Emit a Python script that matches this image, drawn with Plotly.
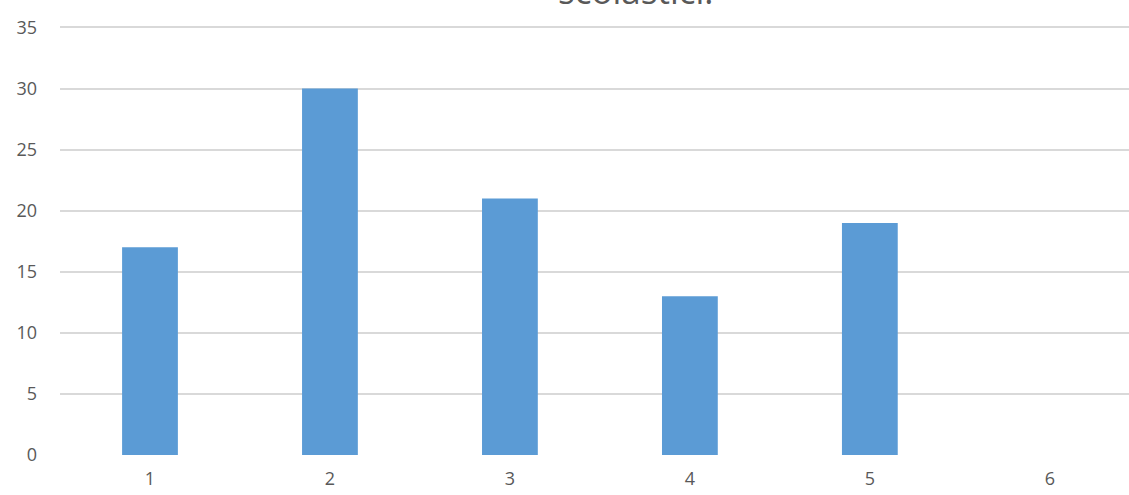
import plotly.graph_objects as go

categories = [1, 2, 3, 4, 5, 6]
values = [17, 30, 21, 13, 19, 0]
y_ticks = [0, 5, 10, 15, 20, 25, 30, 35]
title_text = "scolastici."

fig = go.Figure()
fig.add_trace(go.Bar(
    x=categories, y=values,
    marker=dict(color="#5B9BD5", line=dict(width=0)),
    width=0.31,
))

fig.update_layout(
    width=1129, height=495,
    margin=dict(l=60, r=0, t=25, b=40),
    plot_bgcolor="white", paper_bgcolor="white",
    showlegend=False,
    font=dict(family="Open Sans, Liberation Sans, sans-serif", size=18, color="#595959"),
    xaxis=dict(range=[0.5, 6.44], tickvals=categories, ticktext=[str(c) for c in categories],
               showgrid=False, zeroline=False, showline=False, ticks="", ticklabelstandoff=11),
    yaxis=dict(range=[0, 35.2], tickvals=y_ticks, showgrid=True, gridcolor="#D9D9D9", gridwidth=1.5,
               zeroline=False, ticks="", ticklabelstandoff=22),
    annotations=[dict(text=title_text, xref="paper", yref="paper", x=0.5388, y=1.0215,
                      xanchor="center", yanchor="bottom", showarrow=False,
                      font=dict(size=35, color="#595959"))],
)
fig.write_html("out.html", config={"displayModeBar": False},
               post_script="document.body.style.margin='0';document.body.style.overflow='hidden';")
